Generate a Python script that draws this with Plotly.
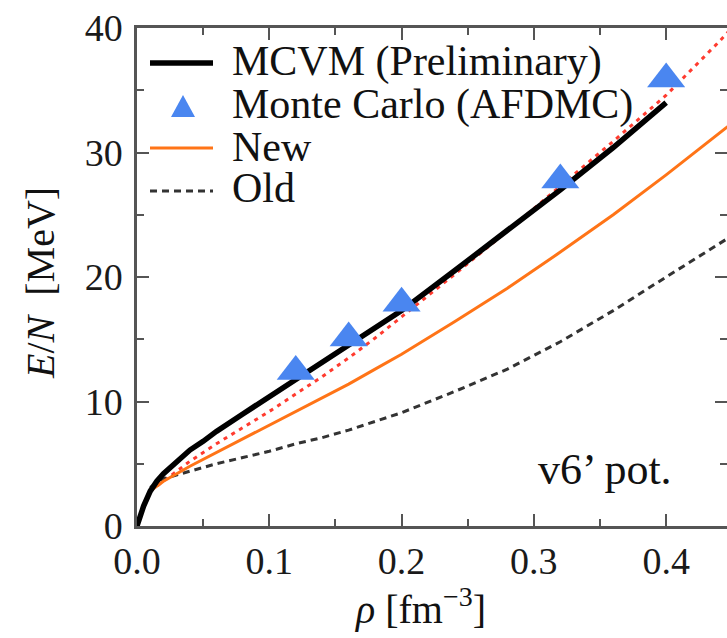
import plotly.graph_objects as go

# --- data ---
rho_mcvm = [0, 0.002, 0.005, 0.01, 0.015, 0.02, 0.03, 0.04, 0.05, 0.06, 0.08, 0.10, 0.12, 0.14, 0.16, 0.18, 0.20, 0.24, 0.28, 0.32, 0.36, 0.40]
E_mcvm   = [0, 0.7, 1.6, 2.8, 3.6, 4.2, 5.2, 6.1, 6.8, 7.6, 9.0, 10.4, 11.8, 13.1, 14.6, 15.9, 17.3, 20.5, 23.7, 27.0, 30.4, 34.0]

rho_afdmc = [0.12, 0.16, 0.20, 0.32, 0.40]
E_afdmc   = [12.4, 15.1, 17.9, 27.8, 35.9]

rho_curve = [0.01, 0.02, 0.04, 0.06, 0.08, 0.10, 0.12, 0.14, 0.16, 0.18, 0.20, 0.24, 0.28, 0.32, 0.36, 0.40, 0.44, 0.46]
E_red = [2.8, 3.6, 5.2, 6.6, 7.9, 9.2, 10.6, 12.0, 13.5, 15.1, 16.8, 20.2, 23.7, 27.3, 30.9, 34.6, 38.9, 41.2]
E_new = [2.8, 3.6, 4.8, 5.9, 7.0, 8.1, 9.2, 10.3, 11.4, 12.6, 13.8, 16.4, 19.1, 22.0, 25.0, 28.2, 31.5, 33.2]
E_old = [3.1, 3.8, 4.4, 5.0, 5.5, 6.0, 6.6, 7.1, 7.7, 8.4, 9.1, 10.8, 12.6, 14.8, 17.3, 20.0, 22.7, 24.0]

x_ticks = [0.0, 0.1, 0.2, 0.3, 0.4]
x_ticklabels = ["0.0", "0.1", "0.2", "0.3", "0.4"]
y_ticks = [0, 10, 20, 30, 40]

legend_names = ["MCVM (Preliminary)", "Monte Carlo (AFDMC)", "New", "Old"]

FONT = "Liberation Serif"
AX = "#555555"
C_MCVM, C_AF, C_NEW, C_OLD, C_RED = "#000000", "#4a86f0", "#ff7417", "#333333", "#ff3b2f"
OLD_DASH = "7px,5px"
RED_DASH = "4px,5px"

# plot-area geometry in pixels (for placing the hand-made legend)
W, H = 727, 638
L, R, T, B = 137, 0, 28, 112
PW, PH = W - L - R, H - T - B
def px(xp): return (xp - L) / PW
def py(yp): return (H - B - yp) / PH

fig = go.Figure()
fig.add_trace(go.Scatter(x=rho_curve, y=E_red, mode="lines", showlegend=False,
                         line=dict(color=C_RED, width=3, dash=RED_DASH)))
fig.add_trace(go.Scatter(x=rho_curve, y=E_old, mode="lines", showlegend=False,
                         line=dict(color=C_OLD, width=3, dash=OLD_DASH)))
fig.add_trace(go.Scatter(x=rho_curve, y=E_new, mode="lines", showlegend=False,
                         line=dict(color=C_NEW, width=3)))
fig.add_trace(go.Scatter(x=rho_mcvm, y=E_mcvm, mode="lines", showlegend=False,
                         line=dict(color=C_MCVM, width=5.5)))
fig.add_trace(go.Scatter(x=rho_afdmc, y=E_afdmc, mode="markers", showlegend=False,
                         marker=dict(symbol="triangle-up", size=33, color=C_AF)))
fig.add_trace(go.Scatter(x=[None], y=[None], yaxis="y2", showlegend=False))

# ---- hand-made legend ----
rows_y = [61, 104, 147, 188]
for name, yy in zip(legend_names, rows_y):
    fig.add_annotation(x=px(230), y=py(yy), xref="paper", yref="paper", xanchor="left",
                       yanchor="middle", text=name, showarrow=False,
                       font=dict(family=FONT, size=42, color="#111111"))
fig.add_shape(type="line", xref="paper", yref="paper", x0=px(150), x1=px(213),
              y0=py(63), y1=py(63), line=dict(color=C_MCVM, width=5.5))
fig.add_shape(type="path", xref="paper", yref="paper", xsizemode="pixel", ysizemode="pixel",
              xanchor=px(183), yanchor=py(106), path="M -12,-11 L 12,-11 L 0,11 Z",
              fillcolor=C_AF, line=dict(width=0))
fig.add_shape(type="line", xref="paper", yref="paper", x0=px(150), x1=px(213),
              y0=py(148), y1=py(148), line=dict(color=C_NEW, width=3))
fig.add_shape(type="line", xref="paper", yref="paper", x0=px(150), x1=px(213),
              y0=py(191), y1=py(191), line=dict(color=C_OLD, width=3, dash=OLD_DASH))

# ---- texts ----
fig.add_annotation(x=0.354, y=4.5, xref="x", yref="y", text="v6’ pot.", showarrow=False,
                   font=dict(family=FONT, size=44, color="#111111"))
fig.add_annotation(x=px(420), y=py(606), xref="paper", yref="paper", xanchor="center",
                   yanchor="middle", text="<i>ρ</i> [fm<sup>−3</sup>]", showarrow=False,
                   font=dict(family=FONT, size=40, color="#111111"))
fig.add_annotation(x=px(40), y=py(283), xref="paper", yref="paper", xanchor="center",
                   yanchor="middle", text="<i>E</i>/<i>N</i>  [MeV]", showarrow=False,
                   textangle=-90, font=dict(family=FONT, size=40, color="#111111"))

fig.update_layout(
    width=W, height=H,
    margin=dict(l=L, r=R, t=T, b=B, autoexpand=False),
    paper_bgcolor="white", plot_bgcolor="white",
    font=dict(family=FONT, size=38, color="#222222"),
    showlegend=False,
    xaxis=dict(range=[0, 0.446], tickvals=x_ticks, ticktext=x_ticklabels, automargin=False,
               ticks="inside", ticklen=12, tickwidth=2, tickcolor=AX,
               showline=True, linecolor=AX, linewidth=2.5, mirror="ticks",
               showgrid=False, zeroline=False,
               minor=dict(dtick=0.05, ticks="inside", ticklen=7, tickwidth=2, tickcolor=AX),
               tickfont=dict(size=38, color="#1a1a1a")),
    yaxis=dict(range=[0, 40], tickvals=y_ticks, automargin=False,
               ticks="inside", ticklen=12, tickwidth=2, tickcolor=AX,
               showline=True, linecolor=AX, linewidth=2.5,
               showgrid=False, zeroline=False, ticklabelstandoff=4,
               minor=dict(dtick=5, ticks="inside", ticklen=7, tickwidth=2, tickcolor=AX),
               tickfont=dict(size=38, color="#1a1a1a")),
    yaxis2=dict(range=[0, 40], overlaying="y", side="right", tickvals=y_ticks, automargin=False,
                ticks="inside", ticklen=12, tickwidth=2, tickcolor=AX,
                showticklabels=False, showline=False, showgrid=False, zeroline=False,
                minor=dict(dtick=5, ticks="inside", ticklen=7, tickwidth=2, tickcolor=AX)),
)

fig.write_html("out.html", config={"displayModeBar": False},
               post_script="document.body.style.margin='0px';document.body.style.overflow='hidden';")
